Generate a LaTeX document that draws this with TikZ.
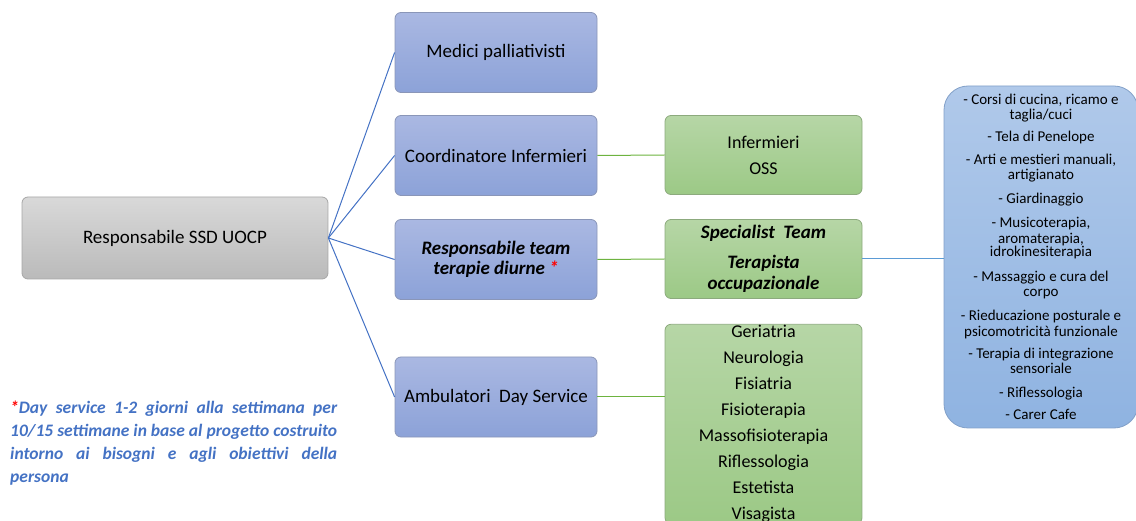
\documentclass[tikz,border=0pt]{standalone}
\usepackage{fontspec}
\setmainfont{Carlito}
\definecolor{linkblue}{HTML}{4472C4}
\definecolor{linklight}{HTML}{5B9BD5}
\definecolor{linkgreen}{HTML}{6DB33F}
\definecolor{bluetop}{HTML}{AAB8E2}
\definecolor{bluebot}{HTML}{8CA2D8}
\definecolor{blueedge}{HTML}{8A96B8}
\definecolor{greentop}{HTML}{B6D6A6}
\definecolor{greenbot}{HTML}{9CC986}
\definecolor{greenedge}{HTML}{8CAA7D}
\definecolor{listtop}{HTML}{B0C9EA}
\definecolor{listbot}{HTML}{8FB3E1}
\definecolor{listedge}{HTML}{82A0C8}
\tikzset{
  basebox/.style={rounded corners=6pt, line width=0.8pt, align=center, inner sep=2pt, font=\fontsize{19}{20}\selectfont},
  bluebox/.style={basebox, draw=blueedge, top color=bluetop, bottom color=bluebot, minimum width=202pt, minimum height=80pt},
  greenbox/.style={basebox, draw=greenedge, top color=greentop, bottom color=greenbot, minimum width=197pt, minimum height=79pt},
  graybox/.style={basebox, draw=black!35, top color=black!15, bottom color=black!27, minimum width=306pt, minimum height=82pt},
  listbox/.style={basebox, rounded corners=24pt, draw=listedge, top color=listtop, bottom color=listbot, minimum width=194pt, minimum height=342pt, font=\fontsize{15}{15}\selectfont},
  blueline/.style={color=linkblue, line width=1pt},
  lightline/.style={color=linklight, line width=1pt},
  greenline/.style={color=linkgreen, line width=1pt}
}
\begin{document}
\begin{tikzpicture}[x=1pt,y=-1pt]
			%%%%% START %%%%%
			\useasboundingbox (0,0) rectangle (1136,521);
			
			\node[graybox] (resp) at (175,238) {Responsabile SSD UOCP};
			
			\node[bluebox] (medici) at (496,52.5) {Medici palliativisti};
			\node[bluebox] (coord) at (496,155.5) {Coordinatore Infermieri};
			\node[bluebox] (team) at (496,259.5) {\bfseries\itshape Responsabile team\\\bfseries\itshape terapie diurne {\color{red}*}};
			\node[bluebox] (amb) at (496,397) {Ambulatori\ \ Day Service};
			
			\node[greenbox, font=\fontsize{18}{26}\selectfont] (inferm) at (763.5,155) {Infermieri\\OSS};
			\node[greenbox] (spec) at (763.5,259) {\bfseries\itshape Specialist\ \ Team\\[10pt]\bfseries\itshape Terapista\\[1pt]\bfseries\itshape occupazionale};
			\node[greenbox, inner ysep=1pt, font=\fontsize{18}{26}\selectfont] (geri) at (763.5,424) {Geriatria\\Neurologia\\Fisiatria\\Fisioterapia\\Massofisioterapia\\Riflessologia\\Estetista\\Visagista};
			
			\node[listbox] (list) at (1041,257) {- Corsi di cucina, ricamo e\\taglia/cuci\\[7pt]- Tela di Penelope\\[7.5pt]- Arti e mestieri manuali,\\artigianato\\[9.5pt]- Giardinaggio\\[9pt]- Musicoterapia,\\[1pt]aromaterapia,\\[-2pt]idrokinesiterapia\\[9.5pt]- Massaggio e cura del\\corpo\\[9pt]- Rieducazione posturale e\\[1pt]psicomotricità funzionale\\[7pt]- Terapia di integrazione\\sensoriale\\[9pt]- Riflessologia\\[7pt]- Carer Cafe};
			
			\node[anchor=north west, text width=327pt, align=justify, inner sep=0pt, text=linkblue, font=\fontsize{17.5}{23}\selectfont\bfseries\itshape] (note) at (10,401) {{\color{red}*}Day service 1-2 giorni alla settimana per\linebreak 10/15 settimane in base al progetto costruito\linebreak intorno ai bisogni e agli obiettivi della\linebreak persona};
			
			\draw[blueline] (resp.east) -- (medici.west);
			\draw[blueline] (resp.east) -- (coord.west);
			\draw[blueline] (resp.east) -- (team.west);
			\draw[blueline] (resp.east) -- (amb.west);
			
			\draw[greenline] (coord.east) -- (inferm.west);
			\draw[greenline] (team.east) -- (spec.west);
			\draw[greenline] (amb.east) -- (amb.east -| geri.west);
			\draw[lightline] (spec.east) -- (spec.east -| list.west);
			
			%%%%% END %%%%%
\end{tikzpicture}
\end{document}
